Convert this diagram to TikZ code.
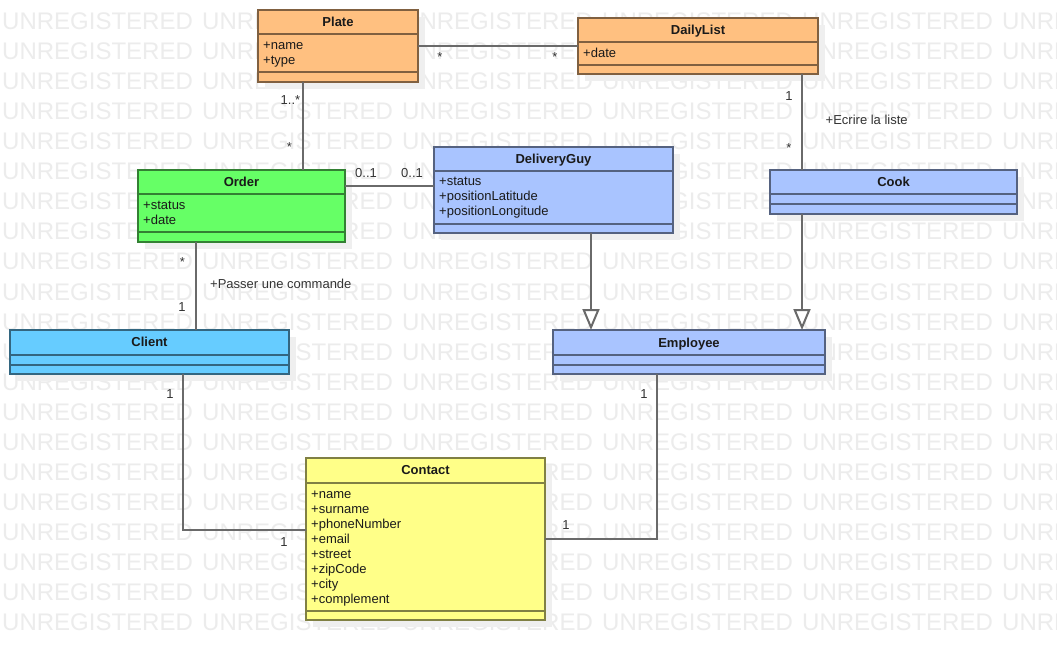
\documentclass[tikz,border=0pt]{standalone}
\usepackage{fontspec}
\setmainfont{Liberation Sans}
\usetikzlibrary{arrows.meta}
\definecolor{wmc}{HTML}{ECECEC}
\definecolor{shadowc}{HTML}{EFEFEF}
\definecolor{orangec}{HTML}{FFC080}
\definecolor{greenc}{HTML}{66FF66}
\definecolor{lbluec}{HTML}{A9C4FF}
\definecolor{cbluec}{HTML}{66CCFF}
\definecolor{yellowc}{HTML}{FFFF88}
\definecolor{linec}{HTML}{6A6A6A}
\definecolor{labc}{HTML}{333333}
\definecolor{txtc}{HTML}{1A1A1A}
\tikzset{
  wmark/.style={inner sep=0pt, text=wmc, font=\fontsize{24}{24}\selectfont},
  classbox/.style={rectangle, line width=2pt, inner sep=0pt, outer sep=0pt},
  ctitle/.style={inner sep=0pt, text=txtc, font=\fontsize{13}{15}\selectfont\bfseries},
  attr/.style={inner sep=0pt, text=txtc, font=\fontsize{13}{15}\selectfont, anchor=base west},
  lab/.style={inner sep=0pt, text=labc, font=\fontsize{13}{15}\selectfont, anchor=base},
  assoc/.style={draw=linec, line width=2pt},
  gen/.style={draw=linec, line width=2pt, -{Triangle[open, length=21pt, width=17pt, fill=white]}},
}
\newcommand\umlclass[9]{%
  \fill[shadowc] (#3+7,#4+7) rectangle (#5+7,#6+7);
  \pgfmathsetmacro\cboxw{#5-#3}\pgfmathsetmacro\cboxh{#6-#4}%
  \node[classbox, fill=#2, draw=#2!50!black, minimum width=\cboxw pt, minimum height=\cboxh pt] (#1) at ({(#3+#5)/2},{(#4+#6)/2}) {};
  \draw[line width=2pt, #2!50!black] (#1.west |- 0,#7) -- (#1.east |- 0,#7) (#1.west |- 0,#8) -- (#1.east |- 0,#8);
  \node[ctitle, anchor=base] (#1-t) at ({(#3+#5)/2},{(#4+#7)/2+4.5}) {#9};
}
\newcommand\umlattrs[4]{%
  \foreach \atxt [count=\ai from 0] in {#4} {\node[attr] (#1-a\ai) at (#2,#3+15*\ai) {\atxt};}%
}
\begin{document}
\begin{tikzpicture}[x=1pt,y=-1pt]
\useasboundingbox (0,0) rectangle (1057,660);
\fill[white] (0,0) rectangle (1057,660);
\begin{scope}
  \clip (0,0) rectangle (1057,660);
  \foreach \r in {0,...,20} {\foreach \c in {0,...,5} {\node[wmark, anchor=base west] (wm-\r-\c) at (2+200*\c,30+30*\r) {UNREGISTERED};}}
\end{scope}

\umlclass{plate}{orangec}{258}{10}{418}{82}{34.5}{72.5}{Plate}
\umlattrs{plate}{263}{50}{+name,+type}
\umlclass{daily}{orangec}{578}{18}{818}{74.5}{42.5}{65.5}{DailyList}
\umlattrs{daily}{583}{58}{+date}
\umlclass{order}{greenc}{138}{170}{345}{242}{194.5}{232.5}{Order}
\umlattrs{order}{143}{209.5}{+status,+date}
\umlclass{dguy}{lbluec}{434}{147}{673}{233}{171}{224}{DeliveryGuy}
\umlattrs{dguy}{439}{186}{+status,+positionLatitude,+positionLongitude}
\umlclass{cook}{lbluec}{770}{170}{1017}{214}{194.5}{204.5}{Cook}
\umlclass{client}{cbluec}{10}{330}{289}{374}{354.5}{364.5}{Client}
\umlclass{employee}{lbluec}{553}{330}{825}{374}{355}{365}{Employee}
\umlclass{contact}{yellowc}{306}{458}{545}{620}{482.5}{610.5}{Contact}
\umlattrs{contact}{311}{498}{+name,+surname,+phoneNumber,+email,+street,+zipCode,+city,+complement}

% associations
\draw[assoc] (plate.east |- 0,46) -- (daily.west |- 0,46);
\node[lab] (l1) at (440,62) {*};
\node[lab] (l2) at (555,62) {*};

\draw[assoc] (plate.south -| 303,0) -- (order.north -| 303,0);
\node[lab] (l3) at (290.5,105) {1..*};
\node[lab] (l4) at (289.5,152) {*};

\draw[assoc] (order.east |- 0,186.5) -- (dguy.west |- 0,186.5);
\node[lab] (l5) at (366,178) {0..1};
\node[lab] (l6) at (412,178) {0..1};

\draw[assoc] (daily.south -| 802,0) -- (cook.north -| 802,0);
\node[lab] (l7) at (789,100.5) {1};
\node[lab] (l8) at (789,153) {*};
\node[lab, anchor=base west] (l9) at (825.5,124.5) {+Ecrire la liste};

\draw[assoc] (order.south -| 196,0) -- (client.north -| 196,0);
\node[lab] (l10) at (182.5,267) {*};
\node[lab] (l11) at (182,311) {1};
\node[lab, anchor=base west] (l12) at (210,288.5) {+Passer une commande};

\draw[gen] (dguy.south -| 591,0) -- (employee.north -| 591,0);
\draw[gen] (cook.south -| 802,0) -- (employee.north -| 802,0);

\draw[assoc] (client.south -| 183,0) |- (contact.west |- 0,529.5);
\node[lab] (l13) at (170,398.5) {1};
\node[lab] (l14) at (284,546) {1};

\draw[assoc] (employee.south -| 657,0) |- (contact.east |- 0,539);
\node[lab] (l15) at (644,398.5) {1};
\node[lab] (l16) at (566,529.5) {1};
\end{tikzpicture}
\end{document}
